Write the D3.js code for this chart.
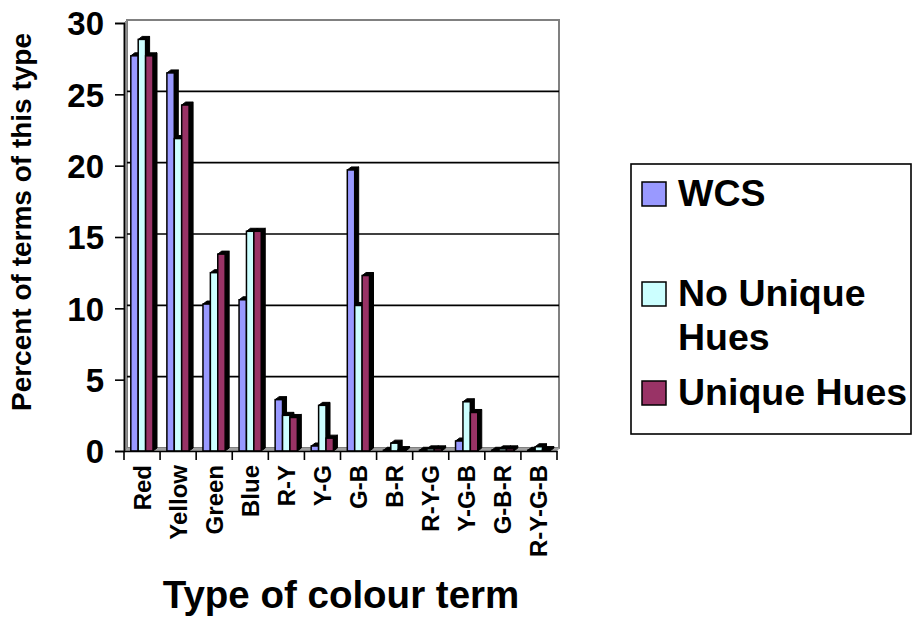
<!DOCTYPE html>
<html>
<head>
<meta charset="utf-8">
<script src="https://cdn.jsdelivr.net/npm/d3@7"></script>
<style>
  html, body { margin: 0; padding: 0; background: #fff; }
  svg { display: block; font-family: "Liberation Sans", Arial, sans-serif; font-weight: bold; }
</style>
</head>
<body>
<svg id="chart" width="913" height="617"></svg>
<script>
// Share of colour terms by type, three samples
const categories = ["Red", "Yellow", "Green", "Blue", "R-Y", "Y-G", "G-B", "B-R", "R-Y-G", "Y-G-B", "G-B-R", "R-Y-G-B"];
const seriesNames = ["WCS", "No Unique Hues", "Unique Hues"];
const wcs          = [27.7, 26.5, 10.3, 10.6, 3.6, 0.35, 19.7, 0.05, 0.05, 0.7, 0.05, 0.05];
const noUniqueHues = [28.85, 21.9, 12.5, 15.4, 2.5, 3.2, 10.2, 0.55, 0.15, 3.45, 0.15, 0.3];
const uniqueHues   = [27.7, 24.25, 13.8, 15.4, 2.35, 0.9, 12.3, 0.1, 0.15, 2.7, 0.15, 0.1];
const yTicks = [0, 5, 10, 15, 20, 25, 30];
const colors = ["#9999FF", "#CCFFFF", "#993366"];

const seriesValues = [wcs, noUniqueHues, uniqueHues];
const svg = d3.select("#chart");

const x = d3.scaleBand().domain(categories).range([124, 557]).padding(0);
const y = d3.scaleLinear().domain([0, 30]).range([451, 23]);

// depth of the back wall and of each column
const wallDx = 3, wallDy = -3;
const barDx = 4, barDy = -3;

// back wall
const wallLeft = x.range()[0] + wallDx, wallRight = x.range()[1] + 2;
svg.append("rect")
  .attr("x", wallLeft).attr("y", y(30) + wallDy)
  .attr("width", wallRight - wallLeft).attr("height", y(0) - y(30))
  .attr("fill", "#fff").attr("stroke", "#808080").attr("stroke-width", 2);

// side wall (left) and floor
svg.append("polygon")
  .attr("points", [[x.range()[0], y(30)], [wallLeft, y(30) + wallDy], [wallLeft, y(0) + wallDy], [x.range()[0], y(0)]].join(" "))
  .attr("fill", "#a0a0a0").attr("stroke", "#808080").attr("stroke-width", 1);
svg.append("polygon")
  .attr("points", [[x.range()[0], y(0)], [x.range()[1], y(0)], [x.range()[1] + wallDx, y(0) + wallDy], [wallLeft, y(0) + wallDy]].join(" "))
  .attr("fill", "#a0a0a0");

// gridlines on the back wall
svg.append("g").selectAll("line")
  .data(yTicks.filter(d => d > 0 && d < 30))
  .join("line")
  .attr("x1", wallLeft).attr("x2", wallRight)
  .attr("y1", d => y(d) + wallDy).attr("y2", d => y(d) + wallDy)
  .attr("stroke", "#000").attr("stroke-width", 1.6);

// columns
const barOffset = 6.8, barW = 7.4;
const bars = [];
categories.forEach((c, i) => {
  seriesValues.forEach((vals, s) => {
    bars.push({ cat: c, s: s, v: vals[i] });
  });
});
const barG = svg.append("g");
bars.forEach(b => {
  const x0 = x(b.cat) + barOffset + b.s * barW;
  const x1 = x0 + barW;
  const yt = y(b.v), yb = y(0);
  const g = barG.append("g");
  // side face
  g.append("polygon")
    .attr("points", [[x1, yt], [x1 + barDx, yt + barDy], [x1 + barDx, yb + barDy], [x1, yb]].join(" "))
    .attr("fill", "#000").attr("stroke", "#000").attr("stroke-width", 1);
  // top face
  g.append("polygon")
    .attr("points", [[x0, yt], [x0 + barDx, yt + barDy], [x1 + barDx, yt + barDy], [x1, yt]].join(" "))
    .attr("fill", "#000").attr("stroke", "#000").attr("stroke-width", 1);
  // front face
  g.append("rect")
    .attr("x", x0).attr("y", yt).attr("width", barW).attr("height", yb - yt)
    .attr("fill", colors[b.s]).attr("stroke", "#000").attr("stroke-width", 1.5);
});

// y axis
const yAxis = svg.append("g").attr("transform", `translate(${x.range()[0]},0)`)
  .call(d3.axisLeft(y).tickValues(yTicks).tickSize(9).tickPadding(11));
yAxis.select(".domain").attr("stroke", "#000").attr("stroke-width", 1.6);
yAxis.selectAll(".tick line").attr("stroke", "#000").attr("stroke-width", 1.6);
yAxis.selectAll(".tick text")
  .attr("fill", "#000").attr("font-size", 33).attr("font-weight", "bold")
  .attr("font-family", "Liberation Sans, Arial, sans-serif").attr("dy", "0.36em");

// x axis
const xAxis = svg.append("g").attr("transform", `translate(0,${y(0)})`)
  .call(d3.axisBottom(x).tickSize(0).tickFormat(""));
xAxis.select(".domain").attr("stroke", "#000").attr("stroke-width", 1.6);
svg.append("g").selectAll("line")
  .data(categories.concat(["_end"]))
  .join("line")
  .attr("x1", (d, i) => x.range()[0] + i * x.bandwidth())
  .attr("x2", (d, i) => x.range()[0] + i * x.bandwidth())
  .attr("y1", y(0)).attr("y2", y(0) + 9)
  .attr("stroke", "#000").attr("stroke-width", 1.6);

svg.append("g").selectAll("text")
  .data(categories)
  .join("text")
  .attr("transform", d => `translate(${x(d) + x.bandwidth() / 2 + 8.5},${y(0) + 14}) rotate(-90)`)
  .attr("text-anchor", "end")
  .attr("font-size", 24)
  .attr("fill", "#000")
  .text(d => d);

// axis titles
svg.append("text")
  .attr("x", 341).attr("y", 608)
  .attr("text-anchor", "middle").attr("font-size", 38.5).attr("fill", "#000")
  .text("Type of colour term");
svg.append("text")
  .attr("transform", "translate(31,222) rotate(-90)")
  .attr("text-anchor", "middle").attr("font-size", 28).attr("fill", "#000")
  .text("Percent of terms of this type");

// legend
const legend = svg.append("g");
legend.append("rect")
  .attr("x", 631).attr("y", 164).attr("width", 280).attr("height", 270)
  .attr("fill", "#fff").attr("stroke", "#000").attr("stroke-width", 1.6);
const legendRows = [
  { lines: ["WCS"], base: 206 },
  { lines: ["No Unique", "Hues"], base: 306 },
  { lines: ["Unique Hues"], base: 405 }
];
legendRows.forEach((r, i) => {
  legend.append("rect")
    .attr("x", 642).attr("y", r.base - 24).attr("width", 24).attr("height", 24)
    .attr("fill", colors[i]).attr("stroke", "#000").attr("stroke-width", 1.5);
  r.lines.forEach((t, k) => {
    legend.append("text")
      .attr("x", 678).attr("y", r.base + k * 44)
      .attr("font-size", 37.5).attr("fill", "#000")
      .text(t);
  });
});
</script>
</body>
</html>
